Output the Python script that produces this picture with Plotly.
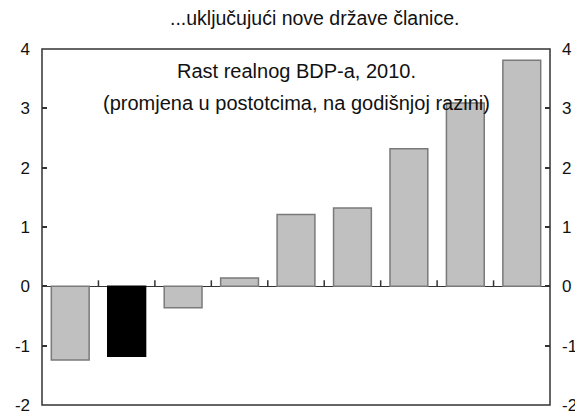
import plotly.graph_objects as go

categories = ["k1", "k2", "k3", "k4", "k5", "k6", "k7", "k8", "k9"]
values = [-1.24, -1.18, -0.36, 0.14, 1.21, 1.32, 2.32, 3.09, 3.81]
highlight = [False, True, False, False, False, False, False, False, False]
y_ticks = [-2, -1, 0, 1, 2, 3, 4]
y_tick_labels = ["-2", "-1", "0", "1", "2", "3", "4"]
title_text = "...uključujući nove države članice."
inner_line1 = "Rast realnog BDP-a, 2010."
inner_line2 = "(promjena u postotcima, na godišnjoj razini)"

fill = ["#000000" if h else "#c0c0c0" for h in highlight]
edge = ["#000000" if h else "#7a7a7a" for h in highlight]

FONT = "Liberation Sans, Arial, sans-serif"
AX = "#333333"
TXT = "#111111"
ymin, ymax = y_ticks[0], y_ticks[-1]
n = len(categories)

fig = go.Figure()
fig.add_trace(go.Bar(x=list(range(n)), y=values,
                     marker=dict(color=fill, line=dict(color=edge, width=1.5)),
                     width=0.67, hoverinfo="skip"))
# invisible helper so the right axis renders
fig.add_trace(go.Scatter(x=[0], y=[0], xaxis="x", yaxis="y2", mode="markers",
                         marker=dict(opacity=0), showlegend=False, hoverinfo="skip"))

zero_pos = (0 - ymin) / (ymax - ymin)
plot_h = 410 - 41 - 13
tick_frac = 6 / plot_h

# small category-separator ticks rising from the zero line
sep_ticks = [dict(type="line", xref="x", yref="paper", x0=i + 0.5, x1=i + 0.5,
                  y0=zero_pos, y1=zero_pos + tick_frac, line=dict(color=AX, width=1.5),
                  layer="above") for i in range(n - 1)]

yax_common = dict(range=[ymin, ymax], tickvals=y_ticks, ticktext=y_tick_labels,
                  ticks="inside", ticklen=5, tickwidth=1.5, tickcolor=AX, showgrid=False,
                  showline=False, automargin=False,
                  tickfont=dict(size=17, color=TXT, family=FONT), ticklabelstandoff=11)

fig.update_layout(
    width=575, height=410,
    margin=dict(l=34, r=33, t=41, b=13, autoexpand=False),
    paper_bgcolor="white", plot_bgcolor="white",
    showlegend=False,
    font=dict(family=FONT, color=TXT),
    xaxis=dict(range=[-0.5, n - 0.5], showticklabels=False, ticks="", showgrid=False,
               zeroline=False, showline=False, automargin=False),
    yaxis=dict(**yax_common, side="left", zeroline=True, zerolinecolor=AX, zerolinewidth=1.3),
    yaxis2=dict(**yax_common, overlaying="y", side="right", anchor="x", zeroline=False),
    shapes=[dict(type="rect", xref="paper", yref="paper", x0=0, x1=1, y0=0, y1=1,
                 line=dict(color=AX, width=1.5), fillcolor="rgba(0,0,0,0)", layer="above")]
           + sep_ticks,
    annotations=[
        dict(text=title_text, xref="paper", yref="paper", x=0.537, y=1.0, yshift=18,
             xanchor="center", yanchor="bottom", showarrow=False,
             font=dict(size=19.5, family=FONT, color=TXT)),
        dict(text=inner_line1, xref="paper", yref="paper", x=0.5, y=1.0, yshift=-22,
             xanchor="center", yanchor="middle", showarrow=False,
             font=dict(size=20, family=FONT, color=TXT)),
        dict(text=inner_line2, xref="paper", yref="paper", x=0.5, y=1.0, yshift=-54,
             xanchor="center", yanchor="middle", showarrow=False,
             font=dict(size=20, family=FONT, color=TXT)),
    ],
)

fig.write_html("out.html")
